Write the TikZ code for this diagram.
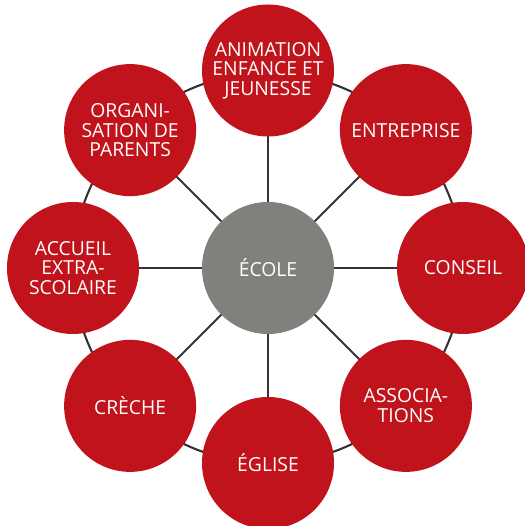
\documentclass[tikz,border=0pt]{standalone}
\usepackage{fontspec}
\setmainfont{Open Sans}
\usetikzlibrary{backgrounds}
\definecolor{partred}{HTML}{C0131C}
\definecolor{schoolgray}{HTML}{7F817C}
\definecolor{linkgray}{HTML}{333333}

\begin{document}
\begin{tikzpicture}[
  partner/.style={circle, fill=partred, minimum size=2.64cm, inner sep=0pt,
    text=white, align=center, font=\fontsize{11}{11.2}\selectfont},
  center/.style={partner, fill=schoolgray},
  link/.style={draw=linkgray, line width=1.2pt}]
  \useasboundingbox (-5.36,-5.16) rectangle (5.12,5.36);
  \node[center] (ecole) at (0,0) {ÉCOLE};
  \node[partner] (animation) at (90:3.95) {ANIMATION\\ENFANCE ET\\JEUNESSE};
  \node[partner] (entreprise) at (45:3.9) {ENTREPRISE};
  \node[partner] (conseil) at (0:3.9) {CONSEIL};
  \node[partner] (associations) at (-45:3.9) {ASSOCIA-\\TIONS};
  \node[partner] (eglise) at (-90:3.9) {ÉGLISE};
  \node[partner] (creche) at (-135:3.9) {CRÈCHE};
  \node[partner] (accueil) at (180:3.9) {ACCUEIL\\EXTRA-\\SCOLAIRE};
  \node[partner] (parents) at (135:3.9) {ORGANI-\\SATION DE\\PARENTS};
  \begin{scope}[on background layer]
    \draw[link] (ecole.center) circle[radius=3.9cm];
    \foreach \p in {animation,entreprise,conseil,associations,eglise,creche,accueil,parents}
      \draw[link] (ecole.center) -- (\p.center);
  \end{scope}
\end{tikzpicture}
\end{document}
